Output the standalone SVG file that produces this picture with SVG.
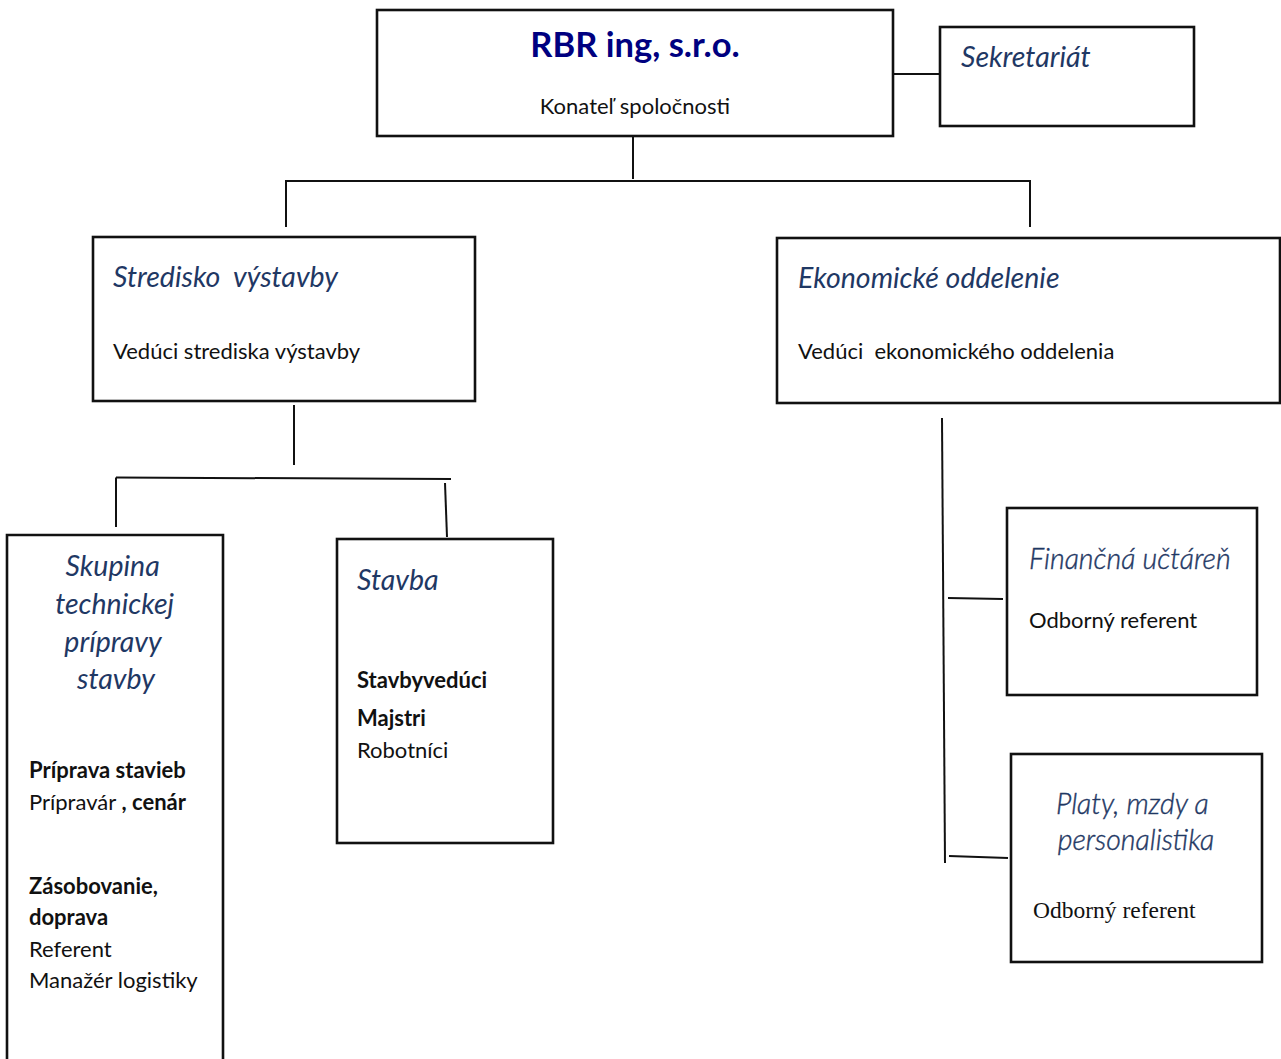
<svg xmlns="http://www.w3.org/2000/svg" width="1281" height="1059" viewBox="0 0 1281 1059">
<style>
.box{fill:#fff;stroke:#111;stroke-width:2.6}
.con{fill:none;stroke:#111;stroke-width:2}
.t{font-family:Lato,"Liberation Sans",sans-serif;font-size:22px;fill:#111}
.b{font-weight:bold}
.h{font-family:Lato,"Liberation Sans",sans-serif;font-style:italic;font-size:28.5px;fill:#1F3864}
.hl{font-family:Lato,"Liberation Sans",sans-serif;font-style:italic;font-weight:300;font-size:28.5px;fill:#1F3864;stroke:#1F3864;stroke-width:0.4}
.title{font-family:Lato,"Liberation Sans",sans-serif;font-weight:bold;font-size:34.5px;fill:#000080}
.serif{font-family:"Liberation Serif","Times New Roman",serif;font-size:23.5px;fill:#111}
</style>
<rect width="1281" height="1059" fill="#fff"/>
<g id="connectors">
<line class="con" x1="893" y1="74" x2="940" y2="74"/>
<line class="con" x1="633" y1="134" x2="633" y2="179"/>
<polyline class="con" points="286,227 286,181 1030,181 1030,227"/>
<line class="con" x1="294" y1="405" x2="294" y2="465"/>
<line class="con" x1="116" y1="477.5" x2="451" y2="479"/>
<line class="con" x1="116" y1="477.5" x2="116" y2="527"/>
<line class="con" x1="445" y1="483" x2="447" y2="537"/>
<line class="con" x1="942" y1="418" x2="945" y2="863"/>
<line class="con" x1="948" y1="598" x2="1003" y2="599"/>
<line class="con" x1="949" y1="856" x2="1008" y2="858"/>
</g>
<g id="rbr">
<rect class="box" x="377" y="10" width="516" height="126"/>
<text class="title" x="635" y="57" text-anchor="middle">RBR ing, s.r.o.</text>
<text class="t" x="635" y="114" text-anchor="middle">Konateľ spoločnosti</text>
</g>
<g id="sekretariat">
<rect class="box" x="940" y="27" width="254" height="99"/>
<text class="h" x="961" y="67">Sekretariát</text>
</g>
<g id="stredisko">
<rect class="box" x="93" y="237" width="382" height="164"/>
<text class="h" x="113" y="287" xml:space="preserve">Stredisko  výstavby</text>
<text class="t" x="113" y="359">Vedúci strediska výstavby</text>
</g>
<g id="ekonomicke">
<rect class="box" x="777" y="238" width="503" height="165"/>
<text class="h" x="798" y="288">Ekonomické oddelenie</text>
<text class="t" x="798" y="359" xml:space="preserve">Vedúci  ekonomického oddelenia</text>
</g>
<g id="skupina">
<path class="box" d="M7,1062 V535 H223 V1062"/>
<text class="h" text-anchor="middle">
<tspan x="116" y="576">Skupina</tspan>
<tspan x="118" y="614">technickej</tspan>
<tspan x="116" y="652">prípravy</tspan>
<tspan x="116" y="689">stavby</tspan>
</text>
<text class="t b" x="29" y="778">Príprava stavieb</text>
<text class="t" x="29" y="810">Prípravár<tspan class="b"> , cenár</tspan></text>
<text class="t b" x="29" y="894">Zásobovanie,</text>
<text class="t b" x="29" y="925">doprava</text>
<text class="t" x="29" y="957">Referent</text>
<text class="t" x="29" y="988">Manažér logistiky</text>
</g>
<g id="stavba">
<rect class="box" x="337" y="539" width="216" height="304"/>
<text class="h" x="357" y="590">Stavba</text>
<text class="t b" x="357" y="688">Stavbyvedúci</text>
<text class="t b" x="357" y="726">Majstri</text>
<text class="t" x="357" y="758">Robotníci</text>
</g>
<g id="financna">
<rect class="box" x="1007" y="508" width="250" height="187"/>
<text class="hl" x="1029" y="569">Finančná učtáreň</text>
<text class="t" x="1029" y="628">Odborný referent</text>
</g>
<g id="platy">
<rect class="box" x="1011" y="754" width="251" height="208"/>
<text class="hl" text-anchor="middle">
<tspan x="1136" y="814">Platy, mzdy a</tspan>
<tspan x="1136" y="850">personalistika</tspan>
</text>
<text class="serif" x="1033" y="918">Odborný referent</text>
</g>
</svg>
